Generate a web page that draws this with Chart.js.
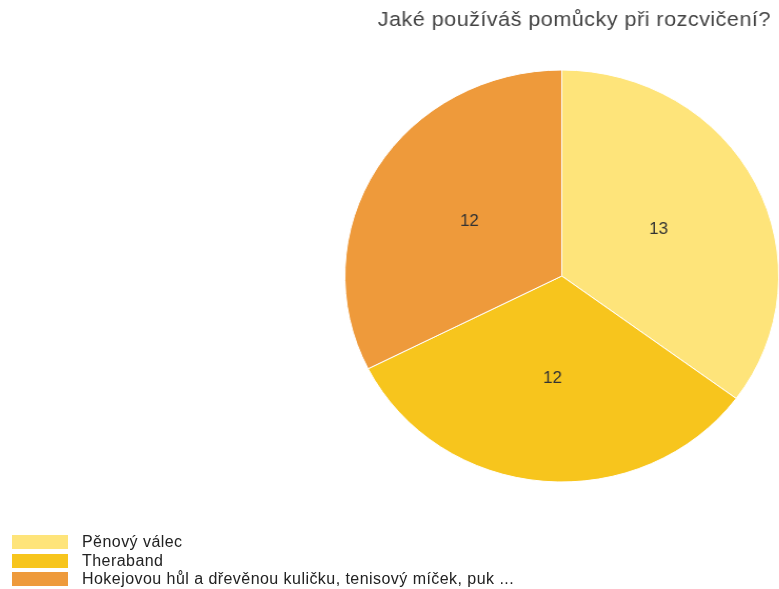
<!DOCTYPE html>
<html>
<head>
<meta charset="utf-8">
<script src="https://cdn.jsdelivr.net/npm/chart.js@4/dist/chart.umd.min.js"></script>
<style>
  body { margin: 0; background: #fff; font-family: "Liberation Sans", Arial, sans-serif; }
  #wrap { position: relative; width: 779px; height: 589px; overflow: hidden; }
  /* the reference is a little wider than tall, so stretch the canvas */
  #pomucky { position: absolute; left: 0; top: 0; transform: scaleX(1.053); transform-origin: 0 0; }
  #legend { position: absolute; left: 12px; top: 533px; }
  .item { display: flex; align-items: center; height: 18.5px; font-size: 16px; letter-spacing: 0.45px; color: #222; }
  .box { width: 56px; height: 14px; margin-right: 14px; }
</style>
</head>
<body>
<div id="wrap">
  <canvas id="pomucky" width="740" height="589"></canvas>
  <div id="legend"></div>
</div>
<script>
const title = "Jaké používáš pomůcky při rozcvičení?";
const labels = ["Pěnový válec", "Theraband", "Hokejovou hůl a dřevěnou kuličku, tenisový míček, puk ..."];
const counts = [13, 12, 12];
const colors = ["#FEE47A", "#F7C51D", "#EE9A3B"];

const legend = document.getElementById("legend");
labels.forEach((label, i) => {
  const item = document.createElement("div");
  item.className = "item";
  item.innerHTML = '<span class="box" style="background:' + colors[i] + '"></span>' + label;
  legend.appendChild(item);
});

// title at top right + numbers in the slices
const extras = {
  id: "extras",
  afterDatasetsDraw(chart) {
    const ctx = chart.ctx;
    ctx.save();
    ctx.fillStyle = "#444";
    ctx.font = '20.5px "Liberation Sans", Arial, sans-serif';
    ctx.letterSpacing = "0.45px";
    ctx.textAlign = "right";
    ctx.textBaseline = "middle";
    ctx.fillText(title, 732, 20);

    ctx.fillStyle = "#333";
    ctx.font = '16px "Liberation Sans", Arial, sans-serif';
    ctx.letterSpacing = "0px";
    ctx.textAlign = "center";
    chart.getDatasetMeta(0).data.forEach((arc, i) => {
      const p = arc.getCenterPoint();
      ctx.fillText(String(counts[i]), p.x, p.y);
    });
    ctx.restore();
  },
};

new Chart(document.getElementById("pomucky"), {
  type: "pie",
  data: {
    labels: labels,
    datasets: [
      {
        data: counts,
        backgroundColor: colors,
        borderColor: "#fff",
        borderWidth: 1,
      },
    ],
  },
  options: {
    responsive: false,
    animation: false,
    layout: { padding: { left: 327, right: 0, top: 69, bottom: 106 } },
    plugins: {
      legend: { display: false },
      title: { display: false },
      tooltip: { enabled: false },
    },
  },
  plugins: [extras],
});
</script>
</body>
</html>
